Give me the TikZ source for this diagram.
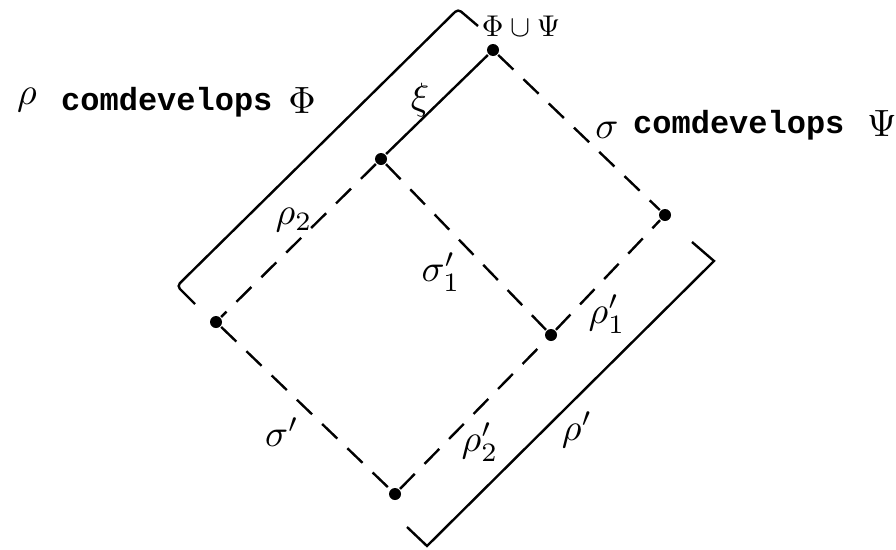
\documentclass[tikz,border=0pt]{standalone}
\usepackage{graphicx}
\usepackage{fontspec}
\newfontfamily\twfont{Liberation Mono}
\newcommand{\hwlabel}[1]{\scalebox{3.8}{$#1$}}
\begin{document}
\begin{tikzpicture}[x=1pt,y=-1pt,
  line width=2.4pt,
  dsh/.style={dash pattern=on 21pt off 14pt},
  pt/.style={circle,fill=black,inner sep=0pt,minimum size=12pt},
  lbl/.style={inner sep=0pt},
  tw/.style={font=\twfont\bfseries\fontsize{32}{34}\selectfont,inner sep=0pt,anchor=base west}]
\useasboundingbox (0,0) rectangle (896,549);
% points
\node[pt] (T) at (493,50) {};
\node[pt] (A) at (381,159) {};
\node[pt] (R) at (665,215) {};
\node[pt] (L) at (216,322) {};
\node[pt] (M) at (551,335) {};
\node[pt] (B) at (395,494) {};
% edges
\draw (T) -- (A);
\draw[dsh] (T) -- (R);
\draw[dsh] (A) -- (L);
\draw[dsh] (A) -- (M);
\draw[dsh] (M) -- (R);
\draw[dsh] (L) -- (B);
\draw[dsh] (B) -- (M);
% brackets
\coordinate (b1a) at (195,304);
\coordinate (b1b) at (177,286);
\coordinate (b1c) at (458,9);
\coordinate (b1d) at (478,26);
\draw[rounded corners=4pt] (b1a) -- (b1b) -- (b1c) -- (b1d);
\coordinate (b2a) at (407,527);
\coordinate (b2b) at (427,546);
\coordinate (b2c) at (714,261);
\coordinate (b2d) at (692,242);
\draw (b2a) -- (b2b) -- (b2c) -- (b2d);
% top label
\node[lbl] (top) at (521,26) {\scalebox{3.0}{$\Phi\cup\Psi$}};
% side labels
\node[lbl] (rho) at (27,100) {\hwlabel{\rho}};
\node[tw] (cd1) at (60,110) {comdevelops};
\node[lbl] (phi) at (302,101) {\hwlabel{\Phi}};
\node[lbl] (sig) at (607,130) {\hwlabel{\sigma}};
\node[tw] (cd2) at (632,133) {comdevelops};
\node[lbl] (psi) at (882,124) {\hwlabel{\Psi}};
% edge labels
\node[lbl] (xi) at (420,100) {\hwlabel{\xi}};
\node[lbl] (r2) at (294,220) {\hwlabel{\rho_2}};
\node[lbl] (s1) at (441,272) {\hwlabel{\sigma_1'}};
\node[lbl] (r1) at (607,314) {\hwlabel{\rho_1'}};
\node[lbl] (s0) at (282,432) {\hwlabel{\sigma'}};
\node[lbl] (r2p) at (480,442) {\hwlabel{\rho_2'}};
\node[lbl] (rp) at (577,430) {\hwlabel{\rho'}};
\end{tikzpicture}
\end{document}
